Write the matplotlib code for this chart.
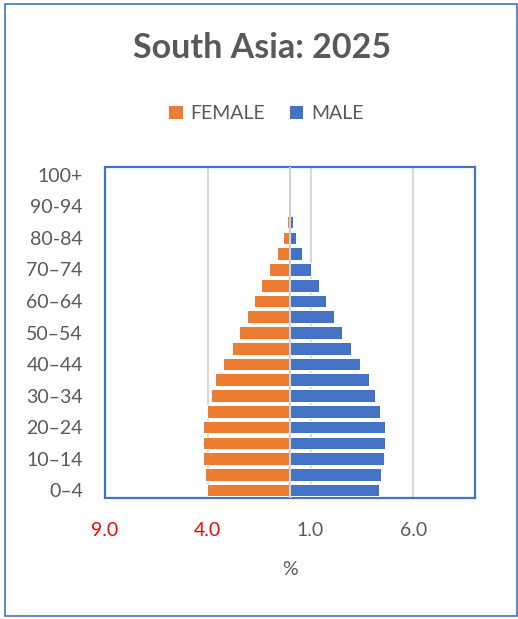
import matplotlib.pyplot as plt
from matplotlib.patches import Rectangle
import numpy as np

age_groups = ["0–4", "5-9", "10–14", "15-19", "20–24", "25-29", "30–34", "35-39",
              "40–44", "45-49", "50–54", "55-59", "60–64", "65-69", "70–74", "75-79",
              "80-84", "85-89", "90-94", "95-99", "100+"]
female = [4.05, 4.12, 4.22, 4.22, 4.23, 4.04, 3.84, 3.63, 3.27, 2.82, 2.48,
          2.11, 1.77, 1.41, 1.02, 0.62, 0.36, 0.16, 0.05, 0.01, 0.0]
male = [4.34, 4.44, 4.59, 4.62, 4.62, 4.38, 4.12, 3.83, 3.42, 2.95, 2.55,
        2.16, 1.77, 1.39, 1.00, 0.57, 0.28, 0.13, 0.05, 0.01, 0.0]
x_ticks = [-9, -4, 1, 6]
x_tick_labels = ["9.0", "4.0", "1.0", "6.0"]

ORANGE = "#ED7D31"
BLUE = "#4472C4"
TEXT = "#595959"
plt.rcParams['font.family'] = ['Lato', 'DejaVu Sans']

W, H = 518, 619
fig = plt.figure(figsize=(W / 100, H / 100), dpi=100)
ax = fig.add_axes([105 / W, 1 - 498 / H, (475 - 105) / W, (498 - 167) / H])

y = np.arange(len(age_groups))
ax.barh(y, -np.array(female), height=0.8, color=ORANGE, edgecolor="white",
        linewidth=0.7, label="FEMALE", zorder=3)
ax.barh(y, male, height=0.8, color=BLUE, edgecolor="white",
        linewidth=0.7, label="MALE", zorder=3)

ax.set_xlim(-9, 9)
ax.set_ylim(-0.5, len(age_groups) - 0.5)

# gridlines and the central category axis
for gx in x_ticks[1:]:
    ax.axvline(gx, color="#D9D9D9", lw=1.5, zorder=1)
ax.axvline(0, color="#D0D0D0", lw=1.5, zorder=4)

ax.set_xticks(x_ticks)
ax.set_xticklabels(x_tick_labels, fontsize=14)
for t, v in zip(ax.get_xticklabels(), x_ticks):
    t.set_color("#FF0000" if v < 0 else TEXT)
ax.tick_params(axis="x", length=0, pad=17)

ax.set_yticks(y[::2])
ax.set_yticklabels(age_groups[::2], fontsize=14, color=TEXT)
ax.tick_params(axis="y", length=0, pad=16)

ax.set_xlabel("%", fontsize=14, color=TEXT, labelpad=16)

for s in ax.spines.values():
    s.set_color(BLUE)
    s.set_linewidth(1.6)

fig.text(262 / W, 1 - 48 / H, "South Asia: 2025", ha="center", va="center",
         fontsize=24.5, fontweight="bold", color=TEXT)

fig.legend(loc="center", bbox_to_anchor=(266 / W, 1 - 113 / H), ncol=2,
           frameon=False, fontsize=14, labelcolor=TEXT, handlelength=0.75,
           handleheight=0.75, columnspacing=1.2, handletextpad=0.4)

fig.patches.append(Rectangle((5 / W, 1 - 616 / H), 512 / W, 612 / H,
                             transform=fig.transFigure, fill=False,
                             edgecolor=BLUE, lw=1.2))

fig.savefig("out.png", dpi=100)
